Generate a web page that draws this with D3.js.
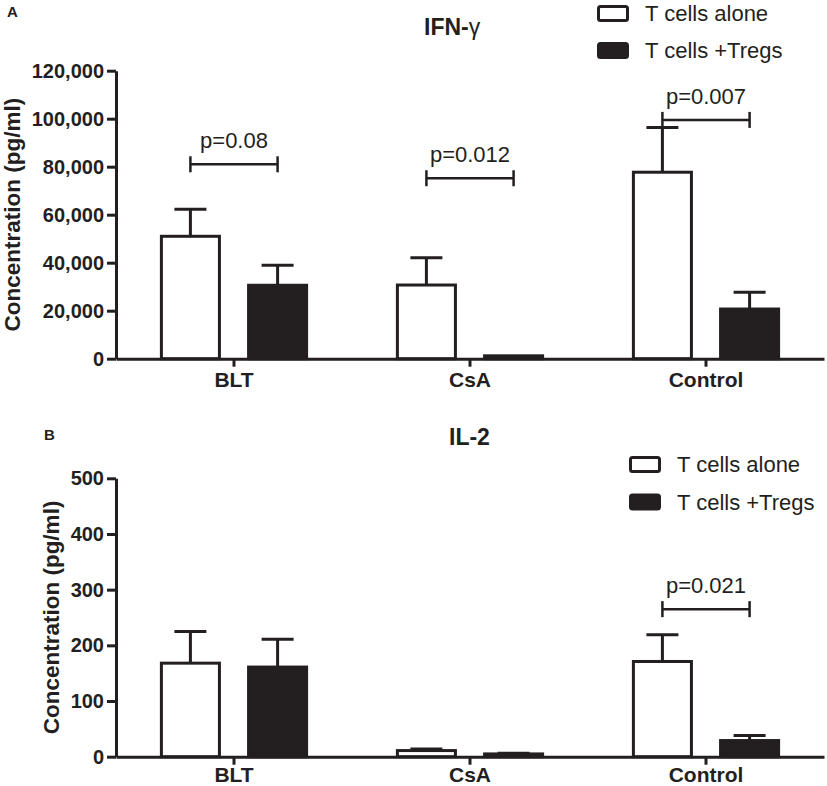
<!DOCTYPE html>
<html>
<head>
<meta charset="utf-8">
<script src="https://cdn.jsdelivr.net/npm/d3@7"></script>
<style>
  body { margin: 0; background: #fff; }
  text { font-family: "Liberation Sans", Arial, sans-serif; fill: #231f20; }
</style>
</head>
<body>
<div id="viz"></div>
<script>
// categories and series
var categories = ["BLT", "CsA", "Control"];
var series = ["T cells alone", "T cells +Tregs"];

// panel A : IFN-gamma (pg/ml)
var ifnAlone = [51000, 30700, 77700];
var ifnAloneErr = [11300, 11400, 18600];
var ifnTregs = [30600, 1200, 20700];
var ifnTregsErr = [8300, 0, 7000];
var ifnTicks = [0, 20000, 40000, 60000, 80000, 100000, 120000];
var ifnPCats = ["BLT", "CsA", "Control"];
var ifnPLevel = [81000, 75200, 99500];
var ifnPLabels = ["p=0.08", "p=0.012", "p=0.007"];

// panel B : IL-2 (pg/ml)
var il2Alone = [168, 11, 171];
var il2AloneErr = [57, 3, 48];
var il2Tregs = [161, 5, 29];
var il2TregsErr = [50, 1, 9];
var il2Ticks = [0, 100, 200, 300, 400, 500];
var il2PCats = ["Control"];
var il2PLevel = [265];
var il2PLabels = ["p=0.021"];

var ink = "#231f20";
var W = 827, H = 786;

var svg = d3.select("#viz").append("svg")
	.attr("width", W)
	.attr("height", H);

var drawPanel = function(p) {
	var g = svg.append("g");

	var x0 = d3.scaleBand().domain(categories).range([116, 824]).padding(0);
	var bw = x0.bandwidth();
	var x1 = d3.scaleBand().domain(series)
		.range([bw * 0.186, bw * 0.814]).paddingInner(0.3);
	var y = d3.scaleLinear().domain([0, p.ticks[p.ticks.length - 1]])
		.range([p.bottom, p.top]);

	var rows = [];
	categories.forEach(function(c, i) {
		rows.push({cat: c, s: series[0], v: p.alone[i], e: p.aloneErr[i], fill: "#fff"});
		rows.push({cat: c, s: series[1], v: p.tregs[i], e: p.tregsErr[i], fill: ink});
	});

	// error bars (upper only)
	var eb = g.selectAll("g.err").data(rows.filter(function(d) { return d.e > 0; }))
		.enter().append("g").attr("class", "err")
		.attr("stroke", ink).attr("stroke-width", 3);
	eb.append("line")
		.attr("x1", function(d) { return x0(d.cat) + x1(d.s) + x1.bandwidth() / 2; })
		.attr("x2", function(d) { return x0(d.cat) + x1(d.s) + x1.bandwidth() / 2; })
		.attr("y1", function(d) { return y(d.v); })
		.attr("y2", function(d) { return y(d.v + d.e); });
	eb.append("line")
		.attr("x1", function(d) { return x0(d.cat) + x1(d.s) + x1.bandwidth() / 2 - 16; })
		.attr("x2", function(d) { return x0(d.cat) + x1(d.s) + x1.bandwidth() / 2 + 16; })
		.attr("y1", function(d) { return y(d.v + d.e); })
		.attr("y2", function(d) { return y(d.v + d.e); });

	// bars
	g.selectAll("rect.bar").data(rows).enter().append("rect")
		.attr("class", "bar")
		.attr("x", function(d) { return x0(d.cat) + x1(d.s) + 1.5; })
		.attr("width", x1.bandwidth() - 3)
		.attr("y", function(d) { return y(d.v); })
		.attr("height", function(d) { return y(0) - y(d.v); })
		.attr("fill", function(d) { return d.fill; })
		.attr("stroke", ink)
		.attr("stroke-width", 3);

	// axes
	var yAxis = g.append("g")
		.attr("transform", "translate(116,0)")
		.call(d3.axisLeft(y).tickValues(p.ticks).tickSize(9).tickSizeOuter(0)
			.tickPadding(3).tickFormat(d3.format(",")));
	var xAxis = g.append("g")
		.attr("transform", "translate(0," + p.bottom + ")")
		.call(d3.axisBottom(x0).tickSize(8).tickSizeOuter(0).tickPadding(p.xPad));
	[yAxis, xAxis].forEach(function(a) {
		a.selectAll("path, line").attr("stroke", ink).attr("stroke-width", 3);
		a.selectAll("text").attr("fill", ink)
			.style("font-size", "20px").style("font-weight", "bold")
			.style("font-family", "'Liberation Sans', Arial, sans-serif");
	});
	xAxis.selectAll("text").style("font-size", "21px");

	// significance brackets
	p.pCats.forEach(function(c, i) {
		var xa = x0(c) + x1(series[0]) + x1.bandwidth() / 2;
		var xb = x0(c) + x1(series[1]) + x1.bandwidth() / 2;
		var yy = y(p.pLevel[i]);
		var br = g.append("g").attr("stroke", ink).attr("stroke-width", 2.5);
		br.append("line").attr("x1", xa).attr("x2", xb).attr("y1", yy).attr("y2", yy);
		br.append("line").attr("x1", xa).attr("x2", xa).attr("y1", yy - 8).attr("y2", yy + 8);
		br.append("line").attr("x1", xb).attr("x2", xb).attr("y1", yy - 8).attr("y2", yy + 8);
		g.append("text")
			.attr("x", (xa + xb) / 2)
			.attr("y", yy - 16)
			.attr("text-anchor", "middle")
			.style("font-size", "22px")
			.text(p.pLabels[i]);
	});

	// y label
	g.append("text")
		.attr("transform", "translate(" + p.labelX + "," + ((p.top + p.bottom) / 2) + ") rotate(-90)")
		.attr("text-anchor", "middle")
		.style("font-size", "22.5px").style("font-weight", "bold")
		.text("Concentration (pg/ml)");

	// title
	var t = g.append("text")
		.attr("x", p.titleX).attr("y", p.titleY)
		.style("font-size", "23px").style("font-weight", "bold");
	t.append("tspan").text(p.title);
	if (p.titleTail) t.append("tspan").style("font-weight", "normal").text(p.titleTail);

	// panel letter
	g.append("text")
		.attr("x", p.letterX).attr("y", p.letterY)
		.style("font-size", "15px").style("font-weight", "bold")
		.text(p.letter);

	// legend
	var lg = g.selectAll("g.leg").data(series).enter().append("g")
		.attr("class", "leg")
		.attr("transform", function(d, i) { return "translate(" + p.legX + "," + (p.legY + i * p.legStep) + ")"; });
	lg.append("rect")
		.attr("x", 1.5).attr("y", 1.5)
		.attr("width", 29).attr("height", 14).attr("rx", 2)
		.attr("fill", function(d, i) { return i === 0 ? "#fff" : ink; })
		.attr("stroke", ink).attr("stroke-width", 3);
	lg.append("text")
		.attr("x", 48).attr("y", 16)
		.style("font-size", "22px")
		.text(function(d) { return d; });
};

drawPanel({
	top: 70.7, bottom: 358.7, ticks: ifnTicks, xPad: 5,
	alone: ifnAlone, aloneErr: ifnAloneErr, tregs: ifnTregs, tregsErr: ifnTregsErr,
	pCats: ifnPCats, pLevel: ifnPLevel, pLabels: ifnPLabels,
	labelX: 20, title: "IFN-", titleTail: "\u03b3", titleX: 424, titleY: 35,
	letter: "A", letterX: 7, letterY: 16.7,
	legX: 597, legY: 5, legStep: 37
});

drawPanel({
	top: 478.3, bottom: 756.7, ticks: il2Ticks, xPad: 2,
	alone: il2Alone, aloneErr: il2AloneErr, tregs: il2Tregs, tregsErr: il2TregsErr,
	pCats: il2PCats, pLevel: il2PLevel, pLabels: il2PLabels,
	labelX: 59, title: "IL-2", titleTail: null, titleX: 449, titleY: 445,
	letter: "B", letterX: 44, letterY: 440,
	legX: 629, legY: 456, legStep: 37.5
});
</script>
</body>
</html>
